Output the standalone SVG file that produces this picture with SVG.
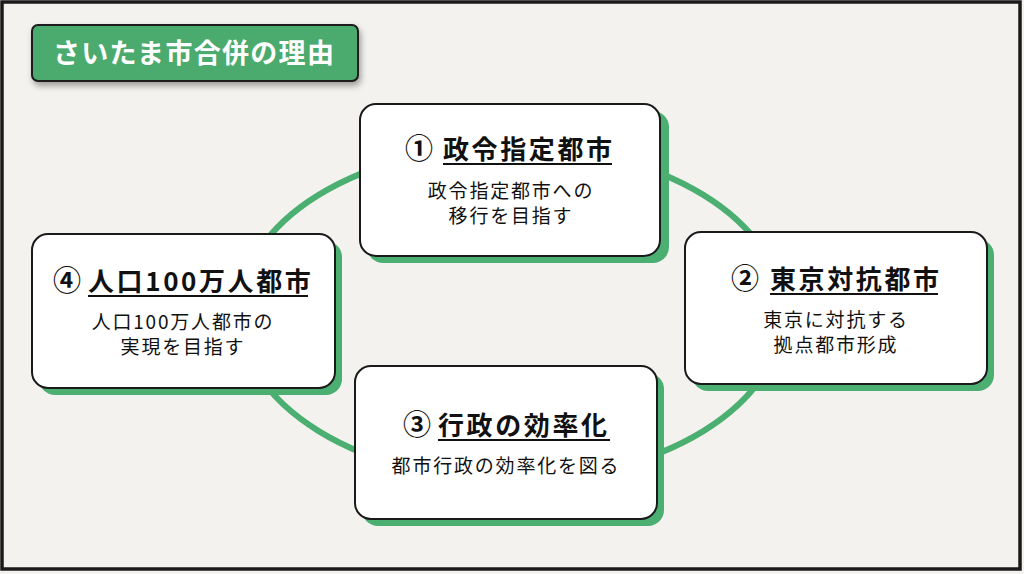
<svg xmlns="http://www.w3.org/2000/svg" width="1024" height="574" viewBox="0 0 1024 574">
<defs>
<filter id="ds" x="-10%" y="-30%" width="130%" height="180%">
<feDropShadow dx="2" dy="4" stdDeviation="3" flood-color="#000" flood-opacity="0.35"/>
</filter>
</defs>
<style>
.bg{fill:#f4f2ee}
.frame{fill:none;stroke:#1a1a1a;stroke-width:3.5}
.ring{fill:none;stroke:#4caf72;stroke-width:6}
.sh{fill:#4caf72}
.card{fill:#ffffff;stroke:#1a1a1a;stroke-width:2}
.num{font-family:"Noto Sans CJK JP","Noto Sans",sans-serif;font-weight:700;font-size:28px;fill:#111}
.ttl{font-family:"Noto Sans CJK JP","Noto Sans",sans-serif;font-weight:700;font-size:26px;letter-spacing:2.6px;fill:#111}
.ul{stroke:#111;stroke-width:2}
.sub{font-family:"Noto Sans CJK JP","Noto Sans",sans-serif;font-weight:400;font-size:19px;letter-spacing:1.8px;fill:#111;text-anchor:middle}
.head{font-family:"Noto Sans CJK JP","Noto Sans",sans-serif;font-weight:700;font-size:27px;letter-spacing:1.3px;fill:#fff}
</style>
<rect class="bg" x="0" y="0" width="1024" height="574"/>
<rect class="frame" x="2" y="2" width="1018" height="567"/>

<g id="connectors">
<ellipse class="ring" cx="511" cy="313" rx="272" ry="167"/>
</g>

<g id="node1">
<rect class="sh" x="367" y="111" width="302" height="152" rx="16"/>
<rect class="card" x="360" y="104" width="300" height="152" rx="16"/>
<text class="num" x="405" y="159">①</text>
<text class="ttl" x="443" y="159">政令指定都市</text>
<line class="ul" x1="443" y1="164" x2="612" y2="164"/>
<text class="sub" x="511" y="198">政令指定都市への</text>
<text class="sub" x="511" y="223">移行を目指す</text>
</g>

<g id="node2">
<rect class="sh" x="692" y="239" width="302" height="152" rx="16"/>
<rect class="card" x="685" y="232" width="302" height="152" rx="16"/>
<text class="num" x="731" y="289">②</text>
<text class="ttl" x="770" y="289">東京対抗都市</text>
<line class="ul" x1="770" y1="294" x2="938" y2="294"/>
<text class="sub" x="836" y="327">東京に対抗する</text>
<text class="sub" x="836" y="352">拠点都市形成</text>
</g>

<g id="node3">
<rect class="sh" x="362" y="373" width="302" height="153" rx="16"/>
<rect class="card" x="355" y="366" width="302" height="153" rx="16"/>
<text class="num" x="403" y="435">③</text>
<text class="ttl" x="438" y="435">行政の効率化</text>
<line class="ul" x1="438" y1="440" x2="610" y2="440"/>
<text class="sub" x="506" y="473">都市行政の効率化を図る</text>
</g>

<g id="node4">
<rect class="sh" x="39" y="241" width="303" height="154" rx="16"/>
<rect class="card" x="32" y="234" width="303" height="154" rx="16"/>
<text class="num" x="53" y="291">④</text>
<text class="ttl" x="88" y="291">人口100万人都市</text>
<line class="ul" x1="88" y1="296" x2="308" y2="296"/>
<text class="sub" x="183" y="329">人口100万人都市の</text>
<text class="sub" x="183" y="354">実現を目指す</text>
</g>

<g id="title">
<rect x="32" y="25" width="326" height="56" rx="6" fill="#4caa6e" stroke="#1a1a1a" stroke-width="2" filter="url(#ds)"/>
<text class="head" x="53" y="63">さいたま市合併の理由</text>
</g>
</svg>
